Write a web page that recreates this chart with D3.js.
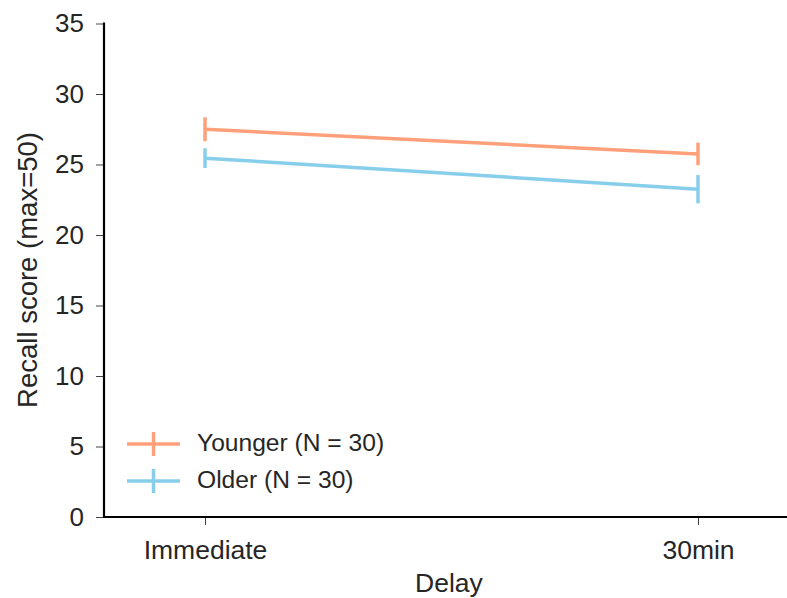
<!DOCTYPE html>
<html>
<head>
<meta charset="utf-8">
<script src="https://cdn.jsdelivr.net/npm/d3@7"></script>
<style>
  html, body { margin: 0; padding: 0; background: #fff; }
  svg { display: block; }
  text { font-family: "Liberation Sans", Arial, sans-serif; fill: #262626; }
</style>
</head>
<body>
<svg id="chart" width="787" height="598"></svg>
<script>
// Delay conditions on the x axis
const delays = ["Immediate", "30min"];
// Group labels and colours
const groups = ["Younger (N = 30)", "Older (N = 30)"];
const colors = ["lightsalmon", "skyblue"];
// Mean recall score per delay, per group
const youngerMeans = [27.5, 25.75];
const olderMeans = [25.45, 23.25];
// Half-width of the error bar per delay, per group
const youngerErr = [0.85, 0.8];
const olderErr = [0.7, 1.0];
// Y tick values
const yTicks = [0, 5, 10, 15, 20, 25, 30, 35];

const series = [
  { name: groups[0], color: colors[0], means: youngerMeans, err: youngerErr },
  { name: groups[1], color: colors[1], means: olderMeans, err: olderErr }
];

const svg = d3.select("#chart");
const plotLeft = 104, plotBottom = 517, plotTop = 23.5;

const y = d3.scaleLinear().domain([0, 35]).range([plotBottom, plotTop]);
// Categories sit at 0 and 1 with padding on either side
const xIdx = d3.scaleLinear().domain([-0.2, 1.2]).range([205 - 0.2 * 493, 698 + 0.2 * 493]);

// Axes
const yAxis = d3.axisLeft(y).tickValues(yTicks).tickSize(8).tickPadding(12);
const gy = svg.append("g").attr("transform", `translate(${plotLeft},0)`).call(yAxis);
gy.select(".domain").remove();
gy.selectAll(".tick line").attr("stroke", "#444").attr("stroke-width", 1);
gy.selectAll(".tick text").style("font-size", "26px").attr("fill", "#262626");

const xAxis = d3.axisBottom(xIdx).tickValues([0, 1]).tickFormat(i => delays[i]).tickSize(8).tickPadding(15);
const gx = svg.append("g").attr("transform", `translate(0,${plotBottom})`).call(xAxis);
gx.select(".domain").remove();
gx.selectAll(".tick line").attr("stroke", "#444").attr("stroke-width", 1);
gx.selectAll(".tick text").style("font-size", "26.5px").attr("fill", "#262626");

// Spines
svg.append("line").attr("x1", plotLeft).attr("x2", plotLeft).attr("y1", y(35) - 1).attr("y2", plotBottom + 1)
  .attr("stroke", "#000").attr("stroke-width", 2.2);
svg.append("line").attr("x1", plotLeft - 1).attr("x2", 787).attr("y1", plotBottom).attr("y2", plotBottom)
  .attr("stroke", "#000").attr("stroke-width", 2.2);

// Axis titles
svg.append("text").attr("transform", `translate(37,270) rotate(-90)`)
  .attr("text-anchor", "middle").style("font-size", "27.5px").text("Recall score (max=50)");
svg.append("text").attr("x", 449).attr("y", 592).attr("text-anchor", "middle")
  .style("font-size", "26.5px").text("Delay");

// Lines and error bars
const line = d3.line().x((d, i) => xIdx(i)).y(d => y(d));
series.forEach(s => {
  svg.append("path").datum(s.means).attr("d", line)
    .attr("fill", "none").attr("stroke", s.color).attr("stroke-width", 3.5);
  s.means.forEach((m, i) => {
    svg.append("line").attr("x1", xIdx(i)).attr("x2", xIdx(i))
      .attr("y1", y(m - s.err[i])).attr("y2", y(m + s.err[i]))
      .attr("stroke", s.color).attr("stroke-width", 3.5);
  });
});

// Legend
const legend = svg.append("g");
series.forEach((s, k) => {
  const cy = 444 + k * 37;
  legend.append("line").attr("x1", 127).attr("x2", 180).attr("y1", cy).attr("y2", cy)
    .attr("stroke", s.color).attr("stroke-width", 3.5);
  legend.append("line").attr("x1", 153.5).attr("x2", 153.5).attr("y1", cy - 12).attr("y2", cy + 12)
    .attr("stroke", s.color).attr("stroke-width", 3.5);
  legend.append("text").attr("x", 197).attr("y", cy + 7).style("font-size", "24.6px").text(s.name);
});
</script>
</body>
</html>
